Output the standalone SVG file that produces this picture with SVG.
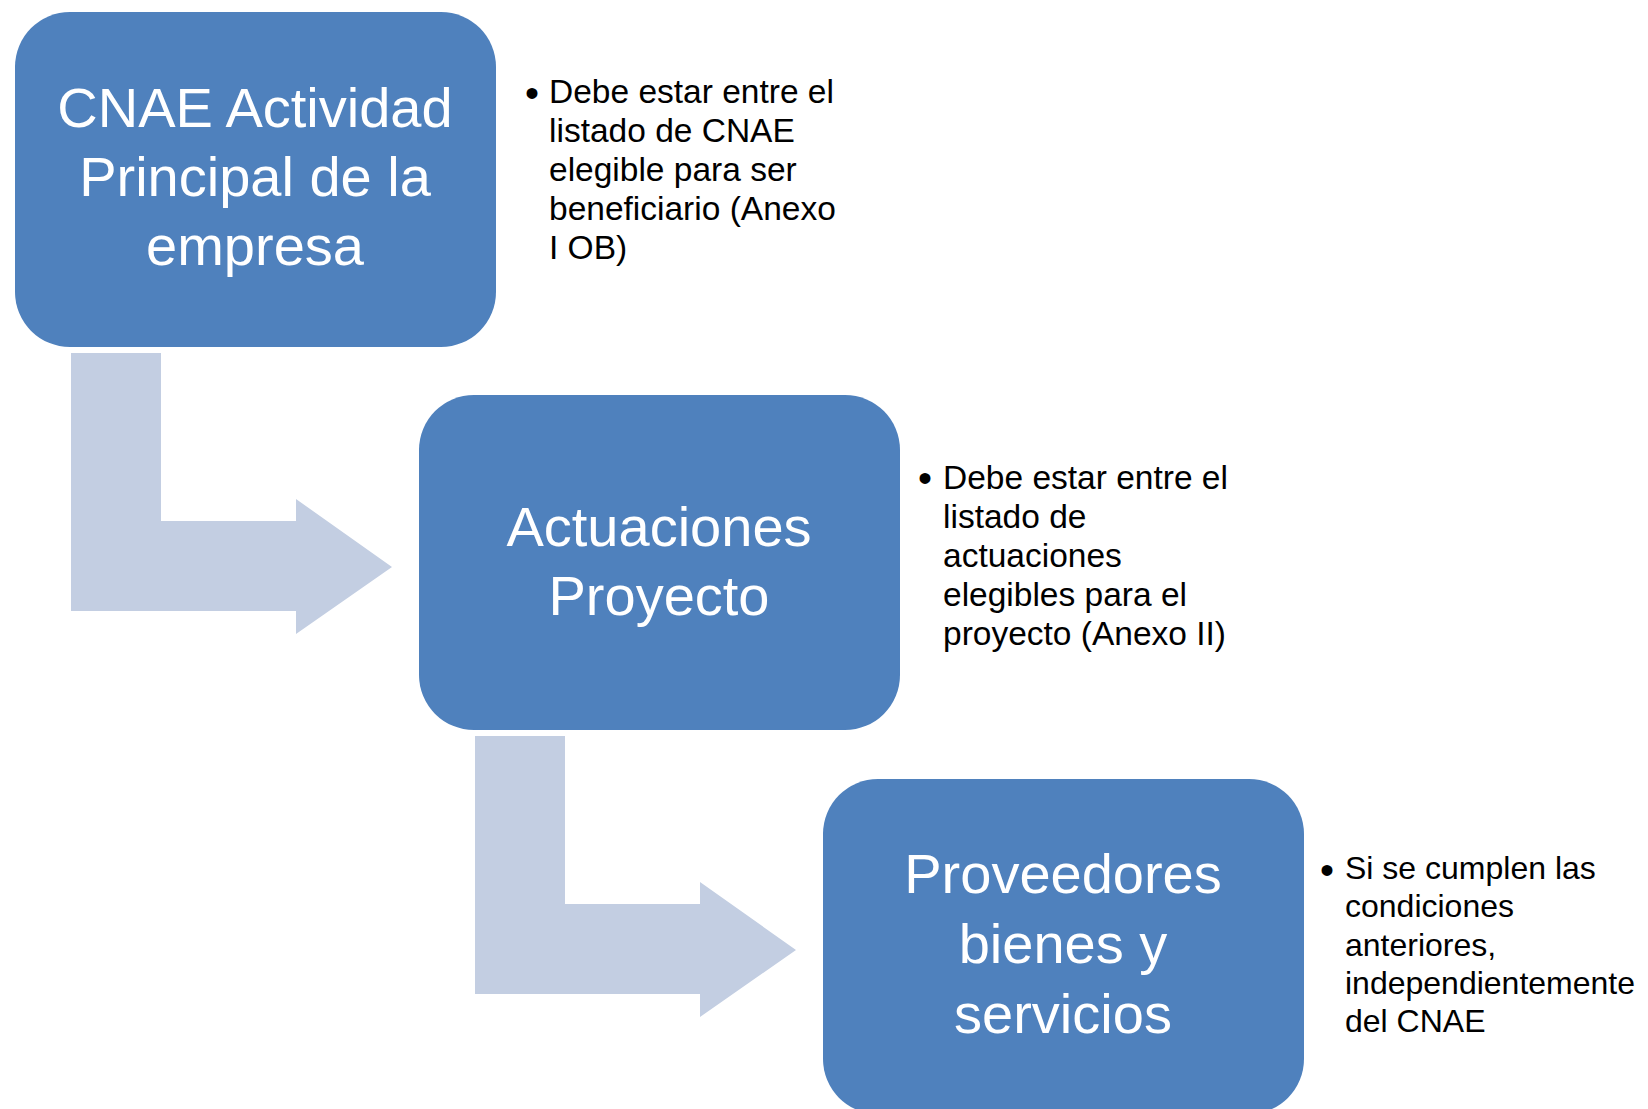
<svg xmlns="http://www.w3.org/2000/svg" width="1648" height="1109" viewBox="0 0 1648 1109">
<style>
.box{fill:#4F81BD;}
.arrow{fill:#C3CEE2;}
.title{font-family:"Liberation Sans",Arial,sans-serif;font-size:56px;fill:#FFFFFF;text-anchor:middle;}
.note{font-family:"Liberation Sans",Arial,sans-serif;font-size:33.5px;fill:#000000;}
.note3{font-size:32px;}
.dot{font-size:40px;}
</style>
<rect width="1648" height="1109" fill="#FFFFFF"/>
<g id="connectors">
<path id="arrow1" class="arrow" d="M71,353 H161 V521 H296 V499 L392,567 L296,634 V611 H71 Z"/>
<path id="arrow2" class="arrow" d="M475,736 H565 V904 H700 V882 L796,950 L700,1017 V994 H475 Z"/>
</g>
<g id="node-cnae">
<rect class="box" x="15" y="12" width="481" height="335" rx="55" ry="55"/>
<text class="title"><tspan x="255" y="127">CNAE Actividad</tspan><tspan x="255" y="196">Principal de la</tspan><tspan x="255" y="265">empresa</tspan></text>
</g>
<g id="note-cnae">
<text class="note"><tspan class="dot" x="525" y="107">•</tspan><tspan x="549" y="103">Debe estar entre el</tspan><tspan x="549" y="142">listado de CNAE</tspan><tspan x="549" y="181">elegible para ser</tspan><tspan x="549" y="220">beneficiario (Anexo</tspan><tspan x="549" y="259">I OB)</tspan></text>
</g>
<g id="node-actuaciones">
<rect class="box" x="419" y="395" width="481" height="335" rx="55" ry="55"/>
<text class="title"><tspan x="659" y="546">Actuaciones</tspan><tspan x="659" y="615">Proyecto</tspan></text>
</g>
<g id="note-actuaciones">
<text class="note"><tspan class="dot" x="918" y="492">•</tspan><tspan x="943" y="489">Debe estar entre el</tspan><tspan x="943" y="528">listado de</tspan><tspan x="943" y="567">actuaciones</tspan><tspan x="943" y="606">elegibles para el</tspan><tspan x="943" y="645">proyecto (Anexo II)</tspan></text>
</g>
<g id="node-proveedores">
<rect class="box" x="823" y="779" width="481" height="335" rx="55" ry="55"/>
<text class="title"><tspan x="1063" y="893">Proveedores</tspan><tspan x="1063" y="963">bienes y</tspan><tspan x="1063" y="1033">servicios</tspan></text>
</g>
<g id="note-proveedores">
<text class="note note3"><tspan class="dot" x="1320" y="884">•</tspan><tspan x="1345" y="879">Si se cumplen las</tspan><tspan x="1345" y="917">condiciones</tspan><tspan x="1345" y="956">anteriores,</tspan><tspan x="1345" y="994">independientemente</tspan><tspan x="1345" y="1032">del CNAE</tspan></text>
</g>
</svg>
